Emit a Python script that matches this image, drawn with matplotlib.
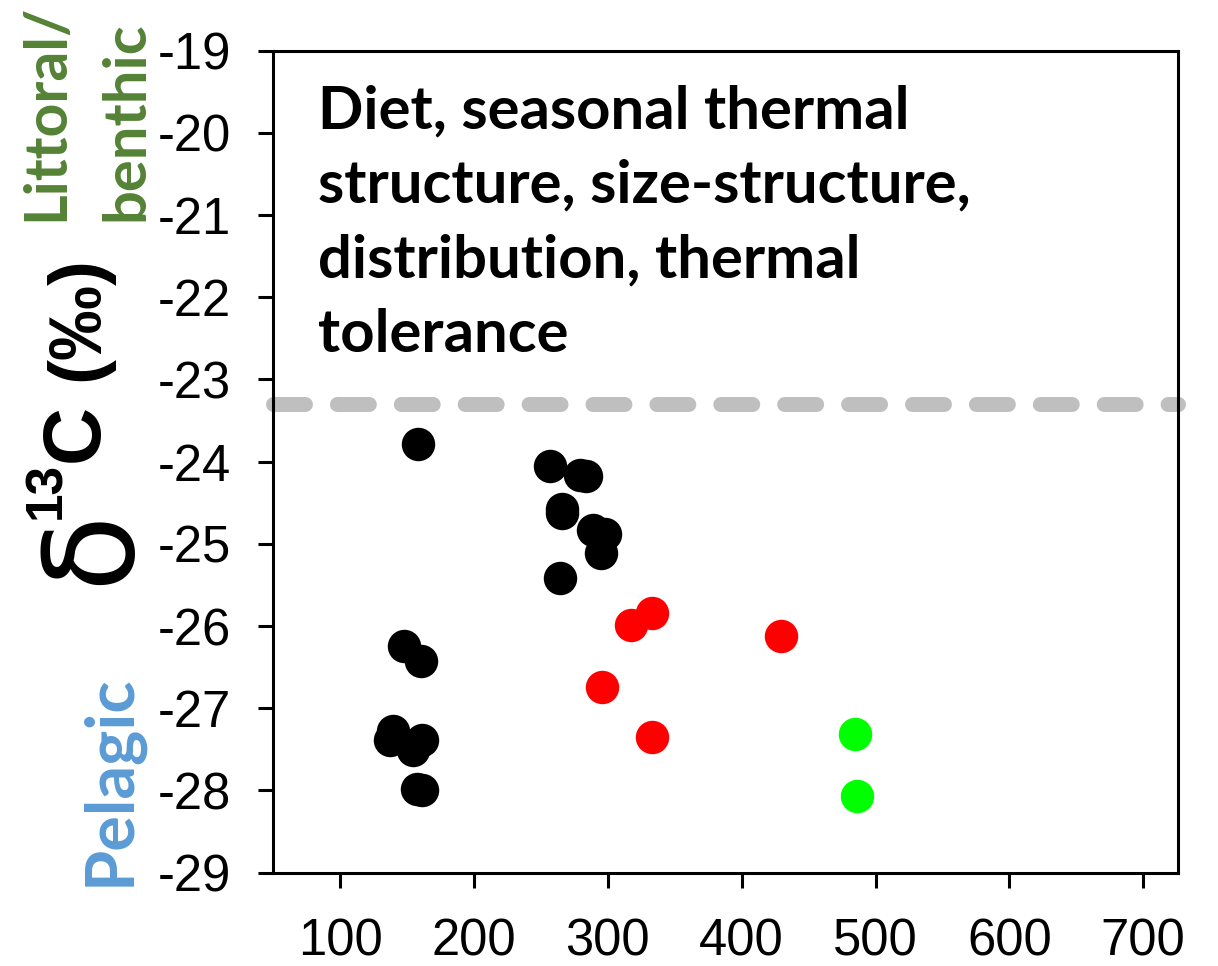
import matplotlib
matplotlib.use("Agg")
import matplotlib.pyplot as plt

# ---- data ----
black_x = [158, 257, 279, 284, 266, 266, 289, 298, 295, 264.5, 148, 160, 139.5, 137.5, 161.3, 154.6, 157.5, 161.3]
black_y = [-23.78, -24.05, -24.16, -24.18, -24.57, -24.63, -24.83, -24.88, -25.11, -25.41,
           -26.24, -26.42, -27.28, -27.38, -27.38, -27.51, -27.98, -28.00]
red_x = [333, 317.5, 429.5, 295.8, 333]
red_y = [-25.84, -25.99, -26.12, -26.74, -27.35]
green_x = [484.6, 486.5]
green_y = [-27.31, -28.07]
threshold = -23.3
xticks = [100, 200, 300, 400, 500, 600, 700]
yticks = [-29, -28, -27, -26, -25, -24, -23, -22, -21, -20, -19]
annotation = "Diet, seasonal thermal\nstructure, size-structure,\ndistribution, thermal\ntolerance"

W, H = 1218, 966
fig = plt.figure(figsize=(W / 100, H / 100), dpi=100)
L, R, T, B = 273.3, 1177.7, 50.7, 872.7
ax = fig.add_axes([L / W, 1 - B / H, (R - L) / W, (B - T) / H])
xmin, xmax = 50, 725.8
ax.set_xlim(xmin, xmax)
ax.set_ylim(-29, -19)

ax.plot([xmin, xmax], [threshold, threshold], color="#BFBFBF", lw=10.8,
        dashes=(2.13, 2.13), dash_capstyle="round", clip_on=False, zorder=2)

ms = 580
ax.scatter(black_x, black_y, s=ms, c="black", linewidths=0, zorder=3)
ax.scatter(red_x, red_y, s=ms, c="#FF0000", linewidths=0, zorder=3)
ax.scatter(green_x, green_y, s=ms, c="#00FF00", linewidths=0, zorder=3)

for sp in ax.spines.values():
    sp.set_linewidth(2.2)
    sp.set_color("black")

tickfont = dict(family="Liberation Sans", size=36.5)
ax.set_xticks(xticks)
ax.set_xticklabels([str(v) for v in xticks], **tickfont)
ax.set_yticks(yticks)
ax.set_yticklabels([str(v) for v in yticks], **tickfont)
ax.tick_params(axis="both", direction="out", length=10.5, width=2.2)
ax.tick_params(axis="y", pad=20)
ax.tick_params(axis="x", pad=22)

ax.text(318 / W, 1 - 84 / H, annotation, transform=fig.transFigure,
        fontsize=43, fontweight="bold", family="Lato", va="top", ha="left",
        linespacing=1.47)

def ft(x, y, s, **kw):
    fig.text(x / W, 1 - y / H, s, rotation=90, rotation_mode="anchor", **kw)

# y-axis label pieces
ft(134, 556, r"$\mathrm{\delta}$", fontsize=90, ha="center", va="baseline")
ft(60, 490, "13", fontsize=37, fontweight="bold", family="Liberation Sans", ha="center", va="baseline")
ft(98, 433, "C", fontsize=58, fontweight="bold", family="Liberation Sans", ha="center", va="baseline")
ft(98, 318, "(‰)", fontsize=54, fontweight="bold", family="Liberation Sans", ha="center", va="baseline")

# region labels
ft(63, 221, "Littoral/", fontsize=42.5, fontweight="bold", family="Lato", color="#548235", ha="left", va="baseline")
ft(143, 221, "benthic", fontsize=43, fontweight="bold", family="Lato", color="#548235", ha="left", va="baseline")
ft(129, 886, "Pelagic", fontsize=48, fontweight="bold", family="Lato", color="#5B9BD5", ha="left", va="baseline")

fig.savefig("out.png", dpi=100)
